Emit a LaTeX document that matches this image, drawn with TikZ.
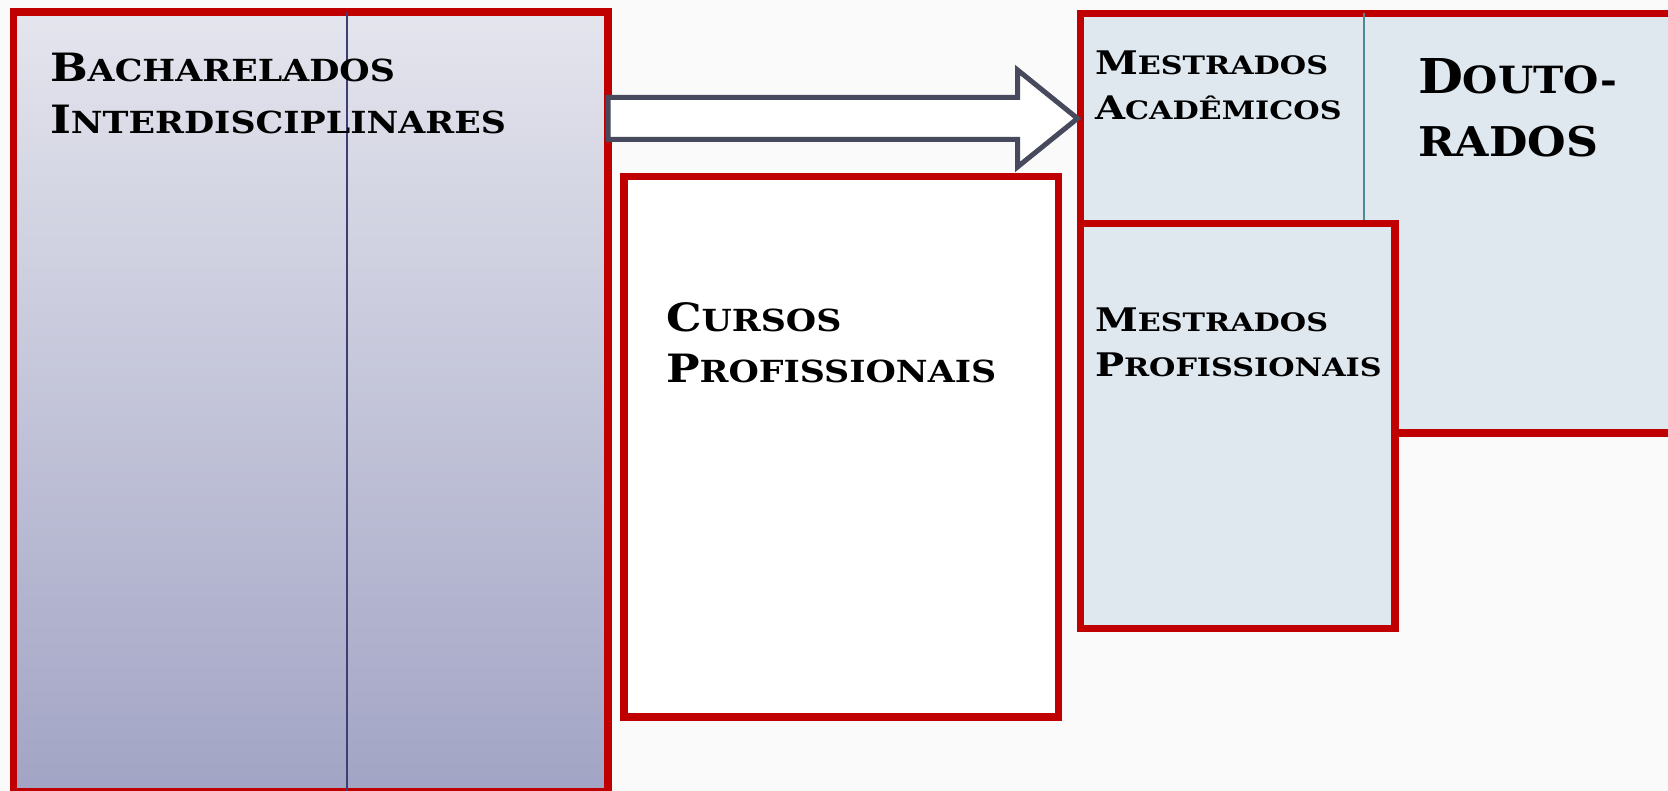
\documentclass[tikz,border=0pt]{standalone}
\usepackage{fontspec}
\setmainfont{DejaVu Serif}
\newfontfamily\cga{DejaVu Serif Bold}[FakeStretch=1.145]
\newfontfamily\cgb{DejaVu Serif Bold}[FakeStretch=1.19]
\newfontfamily\cgc{DejaVu Serif Bold}[FakeStretch=1.08]
\usetikzlibrary{calc}
\definecolor{redb}{HTML}{C00000}
\definecolor{lblue}{HTML}{DFE8EF}
\definecolor{gtop}{HTML}{E4E5ED}
\definecolor{gbot}{HTML}{A2A4C5}
\definecolor{navyl}{HTML}{3C3F70}
\definecolor{teall}{HTML}{4F8A94}
\definecolor{arrowc}{HTML}{474A5C}
\definecolor{bgc}{HTML}{FAFAFA}
% #1 font switch, #2 big size, #3 small size, #4 capital, #5 rest
\newcommand\capsz[5]{{#1\fontsize{#2}{#2}\selectfont #4}{#1\fontsize{#3}{#3}\selectfont #5}}
\tikzset{
  redbox/.style={draw=redb, line width=7.5pt, inner sep=0pt, outer sep=0pt, anchor=north west},
  lbl/.style={anchor=base west, inner sep=0pt, outer sep=0pt, text=black},
  blockarrow/.style={draw=arrowc, line width=5pt, fill=white, line join=miter},
}
\begin{document}
\begin{tikzpicture}[x=1pt,y=-1pt]
\useasboundingbox (0,0) rectangle (1668,791);
\fill[bgc] (0,0) rectangle (1668,791);
\clip (0,0) rectangle (1668,791);
% left box
\node[redbox, top color=gtop, bottom color=gbot, minimum width=594.5pt, minimum height=780pt] (bi) at (13.5,12) {};
\draw[navyl, line width=1.5pt] (bi.north -| 347,0) -- (bi.south -| 347,0);
% cursos box
\node[redbox, fill=white, minimum width=434.5pt, minimum height=540.5pt] (cp) at (624,176.5) {};
% right group
\node[redbox, fill=lblue, minimum width=640pt, minimum height=419.6pt] (dr) at (1080.5,13.4) {};
\node[inner sep=0pt, outer sep=0pt, minimum width=283.5pt, minimum height=210.1pt, anchor=north west] (ma) at (1080.5,13.4) {};
\draw[teall, line width=1.5pt] (ma.north east) -- (ma.south east);
\node[redbox, fill=lblue, minimum width=314.5pt, minimum height=405pt] (mp) at (1080.5,223.5) {};
% arrow
\coordinate (atip) at ($(ma.west)+(-3,0)$);
\coordinate (atail) at (bi.east |- ma.west);
\draw[blockarrow] ($(atail)+(0,-21)$) -- ($(atip)+(-60,-21)$) -- ($(atip)+(-60,-48.5)$) -- (atip)
  -- ($(atip)+(-60,48.5)$) -- ($(atip)+(-60,21)$) -- ($(atail)+(0,21)$) -- cycle;
% texts
\node[lbl] (bi1) at (50,82) {\capsz{\cga}{39}{30.4}{B}{ACHARELADOS}};
\node[lbl] (bi2) at (50,134) {\capsz{\cga}{39}{30.4}{I}{NTERDISCIPLINARES}};
\node[lbl] (cp1) at (666,332) {\capsz{\cga}{39}{30.4}{C}{URSOS}};
\node[lbl] (cp2) at (666,383) {\capsz{\cga}{39}{30.4}{P}{ROFISSIONAIS}};
\node[lbl] (ma1) at (1095,75) {\capsz{\cgb}{32.5}{25.4}{M}{ESTRADOS}};
\node[lbl] (ma2) at (1095,120) {\capsz{\cgb}{32.5}{25.4}{A}{CADÊMICOS}};
\node[lbl] (dr1) at (1418,94) {\capsz{\cgc}{48}{37.5}{D}{OUTO-}};
\node[lbl] (dr2) at (1418,157) {\capsz{\cgc}{48}{41}{}{RADOS}};
\node[lbl] (mp1) at (1095,332) {\capsz{\cgb}{32.5}{25.4}{M}{ESTRADOS}};
\node[lbl] (mp2) at (1095,377) {\capsz{\cgb}{32.5}{25.4}{P}{ROFISSIONAIS}};
\end{tikzpicture}
\end{document}
